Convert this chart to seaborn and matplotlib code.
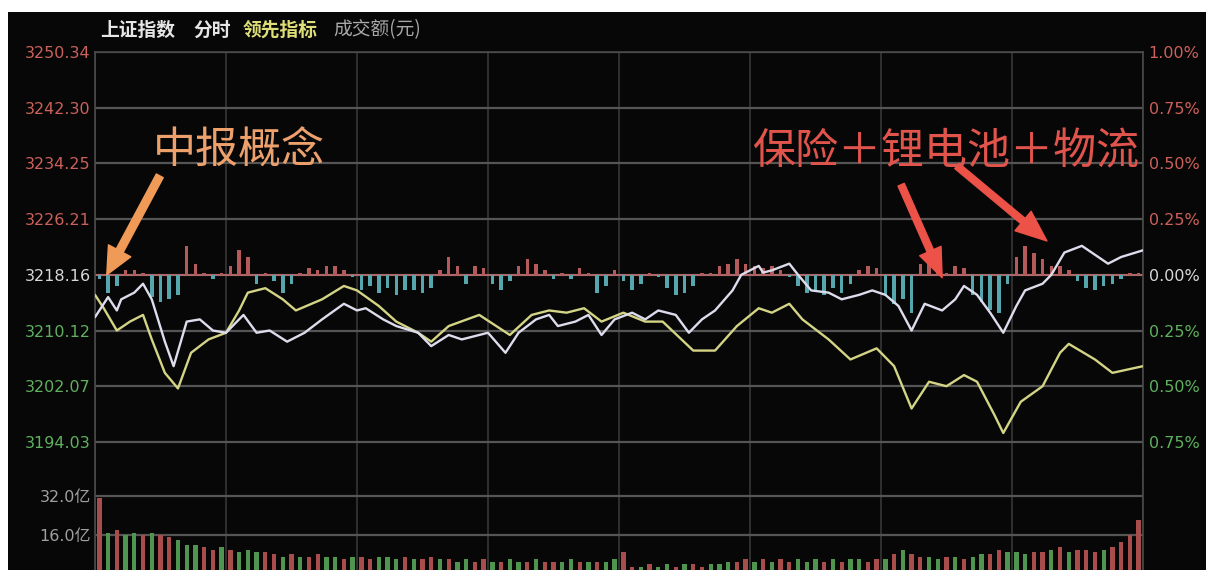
import numpy as np
import pandas as pd
import matplotlib
matplotlib.use("Agg")
import matplotlib.pyplot as plt
import seaborn as sns
from matplotlib import font_manager
from matplotlib.patches import Rectangle

# 上证指数 分时 (minute, % change vs 3218.16)
white_t = [0, 3, 5, 6, 9, 11, 13, 16, 18, 21, 24, 27, 30, 34, 37, 40, 44, 48, 52, 57,
           60, 62, 66, 69, 74, 77, 81, 84, 90, 94, 97, 101, 104, 106, 110, 113, 116, 119, 123, 126,
           129, 133, 136, 139, 142, 146, 148, 152, 153, 155, 159, 161, 164, 168, 171, 175, 178, 181, 184, 187,
           190, 194, 197, 199, 202, 205, 208, 211, 213, 217, 219, 222, 226, 229, 232, 235, 240]
white_pct = [-0.19, -0.10, -0.16, -0.11, -0.08, -0.04, -0.11, -0.30, -0.41, -0.21, -0.20, -0.25, -0.26, -0.18, -0.26, -0.25, -0.30, -0.26, -0.20, -0.13,
             -0.16, -0.15, -0.20, -0.23, -0.26, -0.32, -0.27, -0.29, -0.26, -0.35, -0.26, -0.20, -0.18, -0.23, -0.21, -0.18, -0.27, -0.20, -0.17, -0.20,
             -0.16, -0.18, -0.26, -0.20, -0.16, -0.07, 0.00, 0.04, 0.01, 0.02, 0.05, 0.00, -0.07, -0.08, -0.11, -0.09, -0.07, -0.09, -0.14, -0.25,
             -0.13, -0.16, -0.11, -0.05, -0.09, -0.17, -0.26, -0.14, -0.07, -0.04, 0.00, 0.10, 0.13, 0.09, 0.05, 0.08, 0.11]

# 领先指标
yellow_t = [0, 2, 5, 8, 11, 13, 16, 19, 22, 26, 30, 33, 35, 39, 43, 46, 52, 57, 60, 65,
            69, 74, 77, 81, 88, 95, 100, 104, 108, 112, 116, 121, 126, 130, 137, 142, 147, 152, 155, 159,
            162, 168, 173, 179, 183, 187, 191, 195, 199, 202, 206, 208, 212, 217, 221, 223, 229, 233, 240]
yellow_pct = [-0.09, -0.15, -0.25, -0.21, -0.18, -0.29, -0.44, -0.51, -0.35, -0.29, -0.26, -0.16, -0.08, -0.06, -0.11, -0.16, -0.11, -0.05, -0.07, -0.14,
              -0.21, -0.26, -0.30, -0.23, -0.18, -0.27, -0.18, -0.16, -0.17, -0.15, -0.21, -0.17, -0.21, -0.21, -0.34, -0.34, -0.23, -0.15, -0.17, -0.13,
              -0.20, -0.29, -0.38, -0.33, -0.41, -0.60, -0.48, -0.50, -0.45, -0.48, -0.63, -0.71, -0.57, -0.50, -0.35, -0.31, -0.38, -0.44, -0.41]

# red / cyan strength bars, one per 2 minutes (%)
lead_bars = [-0.02, -0.08, -0.05, 0.02, 0.02, 0.01, -0.10, -0.12, -0.11, -0.09,
             0.13, 0.05, 0.01, -0.02, 0.01, 0.04, 0.11, 0.08, -0.04, 0.01,
             -0.03, -0.08, -0.04, 0.01, 0.03, 0.02, 0.04, 0.04, 0.02, -0.01,
             -0.07, -0.05, -0.08, -0.06, -0.09, -0.07, -0.07, -0.08, -0.06, 0.02,
             0.08, 0.04, -0.04, 0.04, 0.03, -0.04, -0.07, -0.03, 0.04, 0.07,
             0.05, 0.02, -0.02, 0.01, -0.02, 0.03, 0.01, -0.08, -0.05, 0.02,
             -0.03, -0.07, -0.04, 0.01, -0.01, -0.06, -0.09, -0.08, -0.05, 0.01,
             0.01, 0.04, 0.05, 0.07, 0.05, 0.04, 0.03, 0.04, 0.02, -0.01,
             -0.05, -0.08, -0.07, -0.09, -0.06, -0.08, -0.04, 0.02, 0.04, 0.03,
             -0.09, -0.13, -0.11, -0.17, 0.05, 0.07, 0.04, 0.01, 0.04, 0.03,
             -0.09, -0.12, -0.16, -0.17, -0.04, 0.08, 0.13, 0.10, 0.07, 0.04,
             0.04, 0.02, -0.03, -0.06, -0.07, -0.05, -0.04, -0.02, 0.01, 0.01]

# 成交额 (亿), one per 2 minutes
vol_bars = [31, 17, 18, 16, 17, 16, 17, 16, 15, 14,
            12, 12, 11, 10, 11, 10, 9, 10, 9, 9,
            8, 7, 8, 7, 7, 8, 7, 7, 6, 7,
            7, 6, 7, 7, 6, 7, 6, 6, 7, 6,
            6, 5, 6, 5, 6, 5, 5, 6, 5, 5,
            6, 5, 5, 5, 6, 5, 5, 5, 5, 6,
            9, 3, 3, 4, 3, 4, 3, 4, 4, 3,
            4, 4, 5, 5, 6, 5, 6, 5, 6, 5,
            6, 5, 6, 5, 6, 5, 6, 6, 5, 6,
            6, 8, 10, 8, 7, 7, 6, 7, 7, 6,
            7, 8, 8, 10, 9, 9, 8, 9, 9, 10,
            11, 9, 10, 10, 9, 10, 11, 13, 16, 22]
vol_dir = "".join(["rgrggrgrrg", "ggrrgrgggr", "rgrgrrggrg", "rrgggrgrrg",
                   "rggrrgrggr", "grrggrgrgg", "rrgrggrgrr", "gggrrgrgrr",
                   "gggrgrggrr", "grgrrggrgr", "ggrrgggrrg", "rgrrrgrrrr"])

pct_ticks = [1.00, 0.75, 0.50, 0.25, 0.00, -0.25, -0.50, -0.75]
price_labels = ["3250.34", "3242.30", "3234.25", "3226.21", "3218.16", "3210.12", "3202.07", "3194.03"]
pct_labels = ["1.00%", "0.75%", "0.50%", "0.25%", "0.00%", "0.25%", "0.50%", "0.75%"]
vol_ticks = [16, 32]
vol_labels = ["16.0亿", "32.0亿"]

BG = "#070707"
RED_TXT = "#cc605a"
GREEN_TXT = "#5fb05f"
WHITE_TXT = "#d8d8d8"

sns.set_style("dark", {"axes.facecolor": BG})
installed = {f.name for f in font_manager.fontManager.ttflist}
NUM_FONT = "Liberation Sans Narrow" if "Liberation Sans Narrow" in installed else "DejaVu Sans"
NUM_SIZE = 15 if NUM_FONT == "Liberation Sans Narrow" else 11.5
plt.rcParams["font.family"] = ["Noto Sans CJK SC", "DejaVu Sans"]

W, H = 1206, 570
fig = plt.figure(figsize=(W / 100, H / 100), dpi=100, facecolor="white")
fig.patches.append(Rectangle((8 / W, 0), 1 - 8 / W, (H - 12) / H, transform=fig.transFigure,
                             facecolor=BG, edgecolor="none", zorder=-10))

ax = fig.add_axes([95 / W, (H - 472) / H, 1048 / W, 420 / H])
axv = fig.add_axes([95 / W, 0, 1048 / W, 98 / H])

# main panel
ax.set_facecolor(BG)
ax.set_xlim(0, 240)
ax.set_ylim(-0.885, 1.0)
ax.set_xticks(range(0, 241, 30))
ax.set_yticks(pct_ticks)
ax.set_yticklabels(price_labels, family=[NUM_FONT, "DejaVu Sans"], fontsize=NUM_SIZE)
ax.tick_params(axis="x", length=0, labelbottom=False)
ax.tick_params(axis="y", length=0, pad=3)
for lab, p in zip(ax.get_yticklabels(), pct_ticks):
    lab.set_color(RED_TXT if p > 0 else (GREEN_TXT if p < 0 else WHITE_TXT))
ax.grid(axis="y", color="#555555", lw=1.6)
ax.grid(axis="x", color="#363636", lw=1.2)
for side in ["left", "right", "top"]:
    ax.spines[side].set_color("#4a4a4a")
    ax.spines[side].set_linewidth(1.2)
ax.spines["bottom"].set_visible(False)

ax.axhline(0, color="#b06a6a", lw=1.4, zorder=2)
lead_x = np.arange(len(lead_bars)) * 2 + 1
ax.bar(lead_x, lead_bars, width=0.8, linewidth=0, edgecolor="none",
       color=["#b45a5a" if v > 0 else "#56a6ae" for v in lead_bars], zorder=2)

sns.lineplot(x=yellow_t, y=yellow_pct, ax=ax, color="#d4d486", lw=1.7, sort=False, zorder=4)
sns.lineplot(x=white_t, y=white_pct, ax=ax, color="#dcdcec", lw=1.7, sort=False, zorder=5)
ax.set_xlabel("")
ax.set_ylabel("")

ax2 = ax.twinx()
ax2.set_ylim(ax.get_ylim())
ax2.set_yticks(pct_ticks)
ax2.set_yticklabels(pct_labels, family=[NUM_FONT, "DejaVu Sans"], fontsize=NUM_SIZE)
ax2.tick_params(axis="y", length=0, pad=4)
for lab, p in zip(ax2.get_yticklabels(), pct_ticks):
    lab.set_color(RED_TXT if p > 0 else (GREEN_TXT if p < 0 else WHITE_TXT))
ax2.grid(False)
for s in ax2.spines.values():
    s.set_visible(False)

# volume panel
axv.set_facecolor(BG)
axv.set_xlim(0, 240)
axv.set_ylim(1.64, 41.85)
axv.set_xticks(range(0, 241, 30))
axv.set_yticks(vol_ticks)
axv.set_yticklabels(vol_labels, family=[NUM_FONT, "Noto Sans CJK SC"], fontsize=NUM_SIZE, color="#a0a0a0")
axv.tick_params(axis="x", length=0, labelbottom=False)
axv.tick_params(axis="y", length=0, pad=3)
axv.grid(axis="y", color="#555555", lw=1.6)
axv.grid(axis="x", color="#363636", lw=1.2)
for side in ["left", "right"]:
    axv.spines[side].set_color("#4a4a4a")
    axv.spines[side].set_linewidth(1.2)
axv.spines["top"].set_visible(False)
axv.spines["bottom"].set_visible(False)
vol_x = np.arange(len(vol_bars)) * 2 + 1
axv.bar(vol_x, vol_bars, width=1.0, linewidth=0, edgecolor="none",
        color=["#a84c4c" if d == "r" else "#4f944f" for d in vol_dir], zorder=2)

# header
hy = (H - 30) / H
fig.text(100 / W, hy, "上证指数", color="#e6e6e6", fontsize=13.5, fontweight="bold", va="center")
fig.text(193 / W, hy, "分时", color="#e6e6e6", fontsize=13.5, fontweight="bold", va="center")
fig.text(243 / W, hy, "领先指标", color="#dede78", fontsize=13.5, fontweight="bold", va="center")
fig.text(333 / W, hy, "成交额(元)", color="#a8a8a8", fontsize=13.5, va="center")

# annotations
fig.text(239 / W, (H - 152) / H, "中报概念", color="#eca06c", fontsize=31, ha="center", va="center")
fig.text(946 / W, (H - 152) / H, "保险＋锂电池＋物流", color="#e0544c", fontsize=31, ha="center", va="center")

ax.annotate("", xy=(2.7, 0.0), xytext=(53, 99), textcoords="offset pixels",
            arrowprops=dict(arrowstyle="simple,head_length=1.4,head_width=1.3,tail_width=0.4",
                            color="#f09a58", mutation_scale=14, shrinkA=0, shrinkB=0), zorder=6)
ax.annotate("", xy=(194, -0.013), xytext=(-41, 93), textcoords="offset pixels",
            arrowprops=dict(arrowstyle="simple,head_length=1.5,head_width=1.2,tail_width=0.35",
                            color="#ec5248", mutation_scale=14, shrinkA=0, shrinkB=0), zorder=6)
ax.annotate("", xy=(218, 0.152), xytext=(-90, 75), textcoords="offset pixels",
            arrowprops=dict(arrowstyle="simple,head_length=1.6,head_width=1.3,tail_width=0.35",
                            color="#ec5248", mutation_scale=14, shrinkA=0, shrinkB=0), zorder=6)

fig.savefig("out.png", dpi=100, facecolor=fig.get_facecolor())
